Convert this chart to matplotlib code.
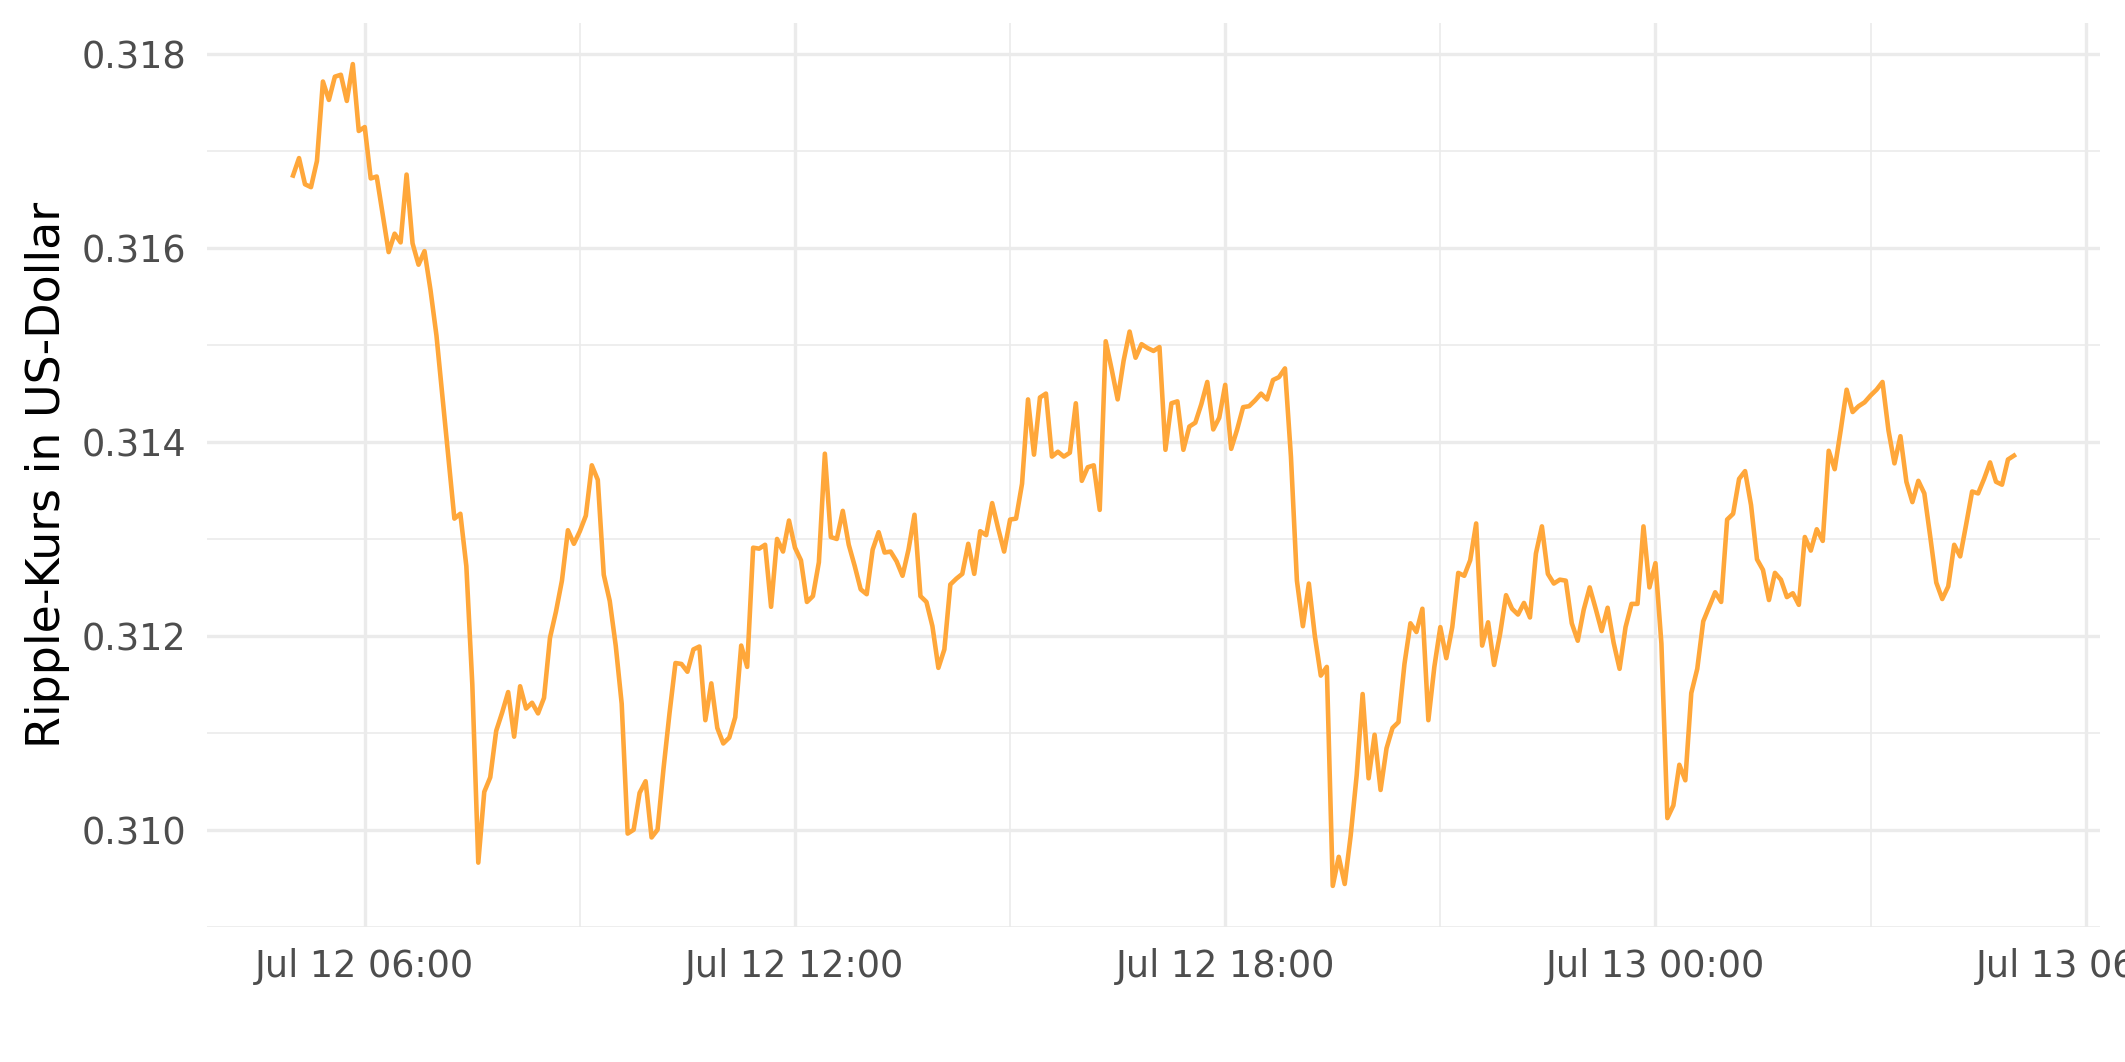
import pandas as pd
import matplotlib
matplotlib.use('Agg')
import matplotlib.pyplot as plt
import matplotlib.dates as mdates
from matplotlib.ticker import MultipleLocator, FormatStrFormatter

# 5-minute Ripple prices, 12 values per row = one hour
start = '2019-07-12 05:00'
step = '5min'
price = [
    0.31675, 0.31693, 0.31666, 0.31663, 0.31690, 0.31772, 0.31753, 0.31777, 0.31779, 0.31752, 0.31790, 0.31721,
    0.31725, 0.31672, 0.31674, 0.31635, 0.31596, 0.31615, 0.31606, 0.31676, 0.31605, 0.31583, 0.31597, 0.31557,
    0.31510, 0.31447, 0.31385, 0.31321, 0.31326, 0.31272, 0.31150, 0.30966, 0.31039, 0.31054, 0.31102, 0.31121,
    0.31142, 0.31096, 0.31148, 0.31125, 0.31131, 0.31120, 0.31136, 0.31198, 0.31225, 0.31257, 0.31309, 0.31295,
    0.31308, 0.31324, 0.31376, 0.31361, 0.31263, 0.31236, 0.31190, 0.31130, 0.30996, 0.31000, 0.31038, 0.31050,
    0.30992, 0.31000, 0.31063, 0.31120, 0.31172, 0.31171, 0.31163, 0.31186, 0.31189, 0.31113, 0.31151, 0.31105,
    0.31089, 0.31095, 0.31116, 0.31190, 0.31168, 0.31291, 0.31290, 0.31294, 0.31230, 0.31300, 0.31287, 0.31319,
    0.31291, 0.31278, 0.31235, 0.31241, 0.31276, 0.31388, 0.31302, 0.31300, 0.31329, 0.31294, 0.31272, 0.31248,
    0.31243, 0.31289, 0.31307, 0.31286, 0.31287, 0.31277, 0.31262, 0.31289, 0.31325, 0.31241, 0.31235, 0.31210,
    0.31167, 0.31186, 0.31253, 0.31259, 0.31264, 0.31295, 0.31264, 0.31308, 0.31304, 0.31337, 0.31311, 0.31287,
    0.31320, 0.31321, 0.31357, 0.31444, 0.31387, 0.31446, 0.31450, 0.31385, 0.31390, 0.31385, 0.31389, 0.31440,
    0.31360, 0.31374, 0.31376, 0.31330, 0.31504, 0.31475, 0.31444, 0.31484, 0.31514, 0.31487, 0.31501, 0.31497,
    0.31494, 0.31498, 0.31392, 0.31440, 0.31442, 0.31392, 0.31416, 0.31420, 0.31439, 0.31462, 0.31413, 0.31425,
    0.31459, 0.31393, 0.31413, 0.31436, 0.31437, 0.31443, 0.31450, 0.31444, 0.31464, 0.31467, 0.31476, 0.31385,
    0.31257, 0.31210, 0.31254, 0.31200, 0.31159, 0.31168, 0.30942, 0.30972, 0.30944, 0.30994, 0.31056, 0.31140,
    0.31053, 0.31098, 0.31041, 0.31084, 0.31105, 0.31111, 0.31171, 0.31213, 0.31204, 0.31228, 0.31113, 0.31168,
    0.31209, 0.31177, 0.31209, 0.31265, 0.31262, 0.31278, 0.31316, 0.31190, 0.31214, 0.31170, 0.31202, 0.31242,
    0.31228, 0.31222, 0.31234, 0.31219, 0.31285, 0.31313, 0.31264, 0.31254, 0.31258, 0.31257, 0.31213, 0.31195,
    0.31227, 0.31250, 0.31228, 0.31205, 0.31229, 0.31193, 0.31166, 0.31209, 0.31233, 0.31233, 0.31313, 0.31250,
    0.31275, 0.31192, 0.31012, 0.31025, 0.31067, 0.31051, 0.31141, 0.31166, 0.31215, 0.31230, 0.31245, 0.31235,
    0.31320, 0.31326, 0.31362, 0.31370, 0.31335, 0.31279, 0.31268, 0.31237, 0.31265, 0.31258, 0.31240, 0.31244,
    0.31232, 0.31302, 0.31288, 0.31310, 0.31298, 0.31391, 0.31372, 0.31412, 0.31454, 0.31431, 0.31437, 0.31441,
    0.31448, 0.31454, 0.31462, 0.31412, 0.31378, 0.31406, 0.31359, 0.31338, 0.31360, 0.31347, 0.31302, 0.31255,
    0.31238, 0.31251, 0.31294, 0.31282, 0.31315, 0.31349, 0.31347, 0.31362, 0.31379, 0.31359, 0.31356, 0.31382,
    0.31386,
]
ylabel = 'Ripple-Kurs in US-Dollar'

times = pd.date_range(start, periods=len(price), freq=step)

fig, ax = plt.subplots(figsize=(2125 / 300, 1062 / 300), dpi=300)
fig.subplots_adjust(left=207 / 2125, right=2100 / 2125, bottom=1 - 927 / 1062, top=1 - 23 / 1062)

ax.plot(times, price, color='#FFA73A', lw=1.1)
ax.margins(x=0.05, y=0.05)

ax.xaxis.set_major_locator(mdates.HourLocator(byhour=[0, 6, 12, 18]))
ax.xaxis.set_minor_locator(mdates.HourLocator(byhour=[3, 9, 15, 21]))
ax.xaxis.set_major_formatter(mdates.DateFormatter('%b %d %H:%M'))
ax.yaxis.set_major_locator(MultipleLocator(0.002))
ax.yaxis.set_minor_locator(MultipleLocator(0.001))
ax.yaxis.set_major_formatter(FormatStrFormatter('%.3f'))

ax.grid(which='major', color='#EBEBEB', lw=0.8)
ax.grid(which='minor', color='#EBEBEB', lw=0.4)
ax.set_axisbelow(True)
for s in ax.spines.values():
    s.set_visible(False)

# ggplot-like spacing: tick length + margin ~ 4.95pt
ax.tick_params(which='both', length=0, labelsize=8.8, labelcolor='#4D4D4D', pad=4.95)
ax.set_ylabel(ylabel, fontsize=11, color='black', labelpad=2.75)

plt.savefig('out.png', dpi=300)
